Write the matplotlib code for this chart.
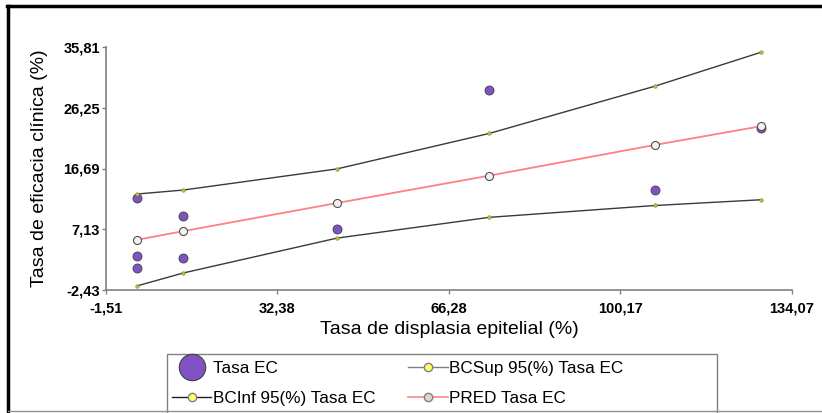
import matplotlib
matplotlib.use('Agg')
import matplotlib.pyplot as plt
from matplotlib.lines import Line2D
from matplotlib.patches import Rectangle

plt.rcParams['font.family'] = ['Liberation Sans', 'DejaVu Sans']

# Datos
x_niveles = [4.56, 13.77, 44.1, 74.2, 107.0, 127.9]
pred_tasa = [5.46, 6.83, 11.25, 15.56, 20.4, 23.34]
bc_sup = [12.67, 13.3, 16.62, 22.2, 29.65, 34.97]
bc_inf = [-1.8, 0.25, 5.73, 9.0, 10.87, 11.77]

tasa_x = [4.56, 4.56, 4.56, 13.77, 13.77, 44.1, 74.2, 107.0, 127.9]
tasa_y = [12.1, 2.9, 1.1, 9.25, 2.57, 7.15, 28.97, 13.24, 23.0]

xticks = [-1.51, 32.38, 66.28, 100.17, 134.07]
xtick_labels = ['-1,51', '32,38', '66,28', '100,17', '134,07']
yticks = [-2.43, 7.13, 16.69, 26.25, 35.81]
ytick_labels = ['-2,43', '7,13', '16,69', '26,25', '35,81']

W, H = 822, 413
fig = plt.figure(figsize=(W / 100, H / 100), dpi=100)
ax = fig.add_axes([106 / W, 1 - 290 / H, (792 - 106) / W, (290 - 47) / H])

PURPLE = '#8052c4'
BAND_MK = '#b4c23c'

ax.plot(tasa_x, tasa_y, 'o', ms=6.5, mfc=PURPLE, mec='#404040', mew=0.6, zorder=3)
ax.plot(x_niveles, pred_tasa, '-', color='#ff8080', lw=1.3, zorder=4)
ax.plot(x_niveles, pred_tasa, 'o', ms=5.8, mfc='#f2f2f2', mec='#505050', mew=0.8, zorder=5)
ax.plot(x_niveles, bc_sup, '-', color='#3a3a3a', lw=1.0, marker='o', ms=2.6,
        mfc=BAND_MK, mec='#707020', mew=0.3, zorder=4)
ax.plot(x_niveles, bc_inf, '-', color='#3a3a3a', lw=1.0, marker='o', ms=2.6,
        mfc=BAND_MK, mec='#707020', mew=0.3, zorder=4)

ax.set_xlim(xticks[0], xticks[-1])
ax.set_ylim(yticks[0], yticks[-1])
ax.set_xticks(xticks)
ax.set_xticklabels(xtick_labels, fontweight='bold', fontsize=10.5)
ax.set_yticks(yticks)
ax.set_yticklabels(ytick_labels, fontweight='bold', fontsize=10.5)
ax.tick_params(axis='x', length=3, width=1, color='#808080', pad=5)
ax.tick_params(axis='y', length=3, width=1, color='#808080', pad=1.5)
for s in ['top', 'right']:
    ax.spines[s].set_visible(False)
for s in ['left', 'bottom']:
    ax.spines[s].set_color('#808080')
    ax.spines[s].set_linewidth(1.2)

ax.set_xlabel('Tasa de displasia epitelial (%)', fontsize=14, labelpad=4)
ax.set_ylabel('Tasa de eficacia clínica (%)', fontsize=14, labelpad=11)

# Leyenda
h_tasa = Line2D([], [], ls='none', marker='o', ms=19, mfc=PURPLE, mec='#404040', mew=0.8)
h_sup = Line2D([], [], color='#808080', lw=1, marker='o', ms=6, mfc='#ffff66', mec='#808080')
h_inf = Line2D([], [], color='#202020', lw=1, marker='o', ms=6, mfc='#ffff66', mec='#808080')
h_pred = Line2D([], [], color='#ff9090', lw=1.3, marker='o', ms=6, mfc='#d8d8d8', mec='#808080')
leg = fig.legend([h_tasa, h_inf, h_sup, h_pred],
                 ['Tasa EC', 'BCInf 95(%) Tasa EC', 'BCSup 95(%) Tasa EC', 'PRED Tasa EC'],
                 ncol=2, loc='upper left', bbox_to_anchor=(167 / W, 1 - 356 / H),
                 fontsize=12.3, frameon=False, handlelength=2.3,
                 handletextpad=0.1, columnspacing=1.9, borderpad=0.3,
                 labelspacing=0.85, borderaxespad=0)
fig.add_artist(Rectangle((167 / W, -0.05), (717 - 167) / W, 0.05 + 1 - 354 / H,
                         transform=fig.transFigure, fill=False,
                         edgecolor='#808080', lw=1.0))

# Marco exterior
fig.add_artist(Line2D([7 / W, 1], [1 - 6 / H, 1 - 6 / H], transform=fig.transFigure,
                      color='black', lw=2.5))
fig.add_artist(Line2D([8 / W, 8 / W], [0, 1 - 6 / H], transform=fig.transFigure,
                      color='black', lw=2.5))
fig.add_artist(Line2D([8 / W, 1], [1 - 411 / H, 1 - 411 / H], transform=fig.transFigure,
                      color='#909090', lw=1.0))

fig.savefig('out.png', dpi=100)
